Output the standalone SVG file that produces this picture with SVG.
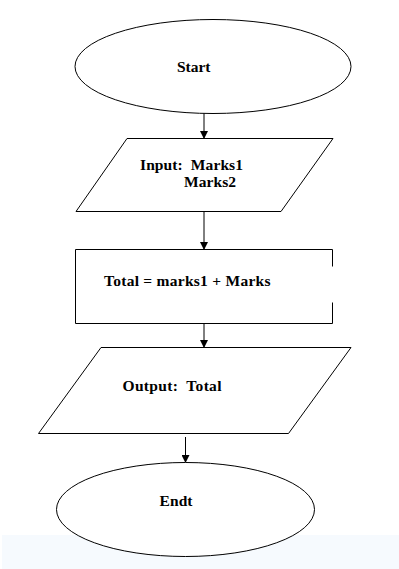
<svg xmlns="http://www.w3.org/2000/svg" width="399" height="569" viewBox="0 0 399 569">
<defs>
<style>
.s{fill:#fff;stroke:#000;stroke-width:1}
.t{font-family:"Liberation Serif","Times New Roman",serif;font-weight:bold;font-size:15.5px;fill:#000;white-space:pre}
.c{stroke:#000;stroke-width:1;fill:none}
</style>
<marker id="ah" markerWidth="8" markerHeight="8" refX="7" refY="4" orient="auto" markerUnits="userSpaceOnUse">
<path d="M0,0 L8,4 L0,8 Z" fill="#000"/>
</marker>
</defs>
<rect x="0" y="0" width="399" height="569" fill="#fff"/>
<rect x="2" y="535" width="397" height="34" fill="#F6FAFE"/>
<g id="connectors">
<line class="c" x1="204" y1="113" x2="204" y2="138" marker-end="url(#ah)"/>
<line class="c" x1="204" y1="212" x2="204" y2="249" marker-end="url(#ah)"/>
<line class="c" x1="204" y1="323" x2="204" y2="347" marker-end="url(#ah)"/>
<line class="c" x1="185.5" y1="437" x2="185.5" y2="462" marker-end="url(#ah)"/>
</g>
<g id="start">
<ellipse class="s" cx="213" cy="66.5" rx="138" ry="47"/>
<text class="t" x="177" y="72" textLength="33.5">Start</text>
</g>
<g id="input">
<polygon class="s" points="127,138.5 333,138.5 281,211.5 76,211.5"/>
<text class="t" x="140" y="169.5" xml:space="preserve" textLength="103">Input:  Marks1</text>
<text class="t" x="184" y="187" textLength="52">Marks2</text>
</g>
<g id="process">
<path class="s" d="M332.5,266.5 V249.5 H75.5 V323.5 H332.5 V302.5"/>
<text class="t" x="104" y="286" textLength="166.5">Total = marks1 + Marks</text>
</g>
<g id="output">
<polygon class="s" points="101,347.5 351,347.5 288.5,433.5 38.5,433.5"/>
<text class="t" x="122.5" y="391" xml:space="preserve" textLength="99">Output:  Total</text>
</g>
<g id="end">
<ellipse class="s" cx="185.5" cy="509.5" rx="129" ry="47"/>
<text class="t" x="159.5" y="506" textLength="33">Endt</text>
</g>
</svg>
